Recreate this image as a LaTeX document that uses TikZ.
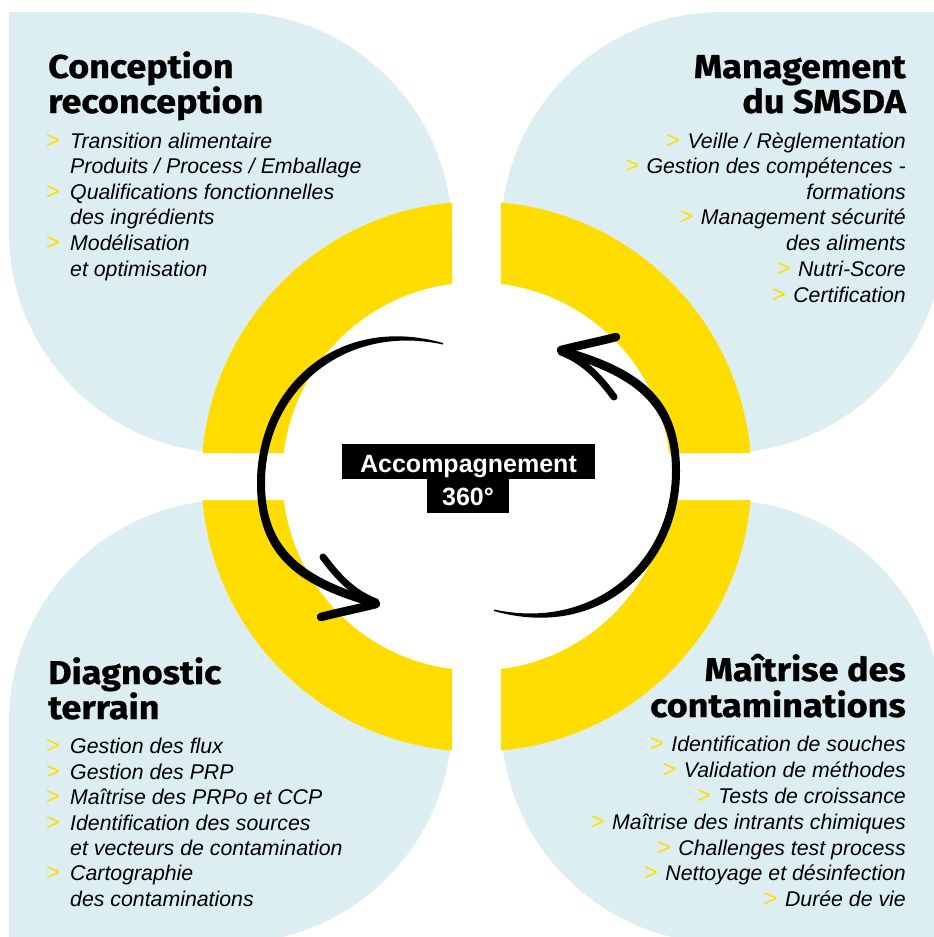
\documentclass[tikz,border=0pt]{standalone}
\usepackage{fontspec}
\setmainfont{Liberation Sans}
\newfontfamily\titlefont{Fira Sans}[FakeStretch=1.09, BoldFeatures={FakeBold=0.8}]
\definecolor{qblue}{HTML}{DDEEF3}
\definecolor{qyellow}{HTML}{FFDD00}
\begin{document}
\begin{tikzpicture}[x=1pt,y=-1pt,
  ttl/.style={inner sep=0pt, font=\titlefont\bfseries\fontsize{33}{35}\selectfont},
  itm/.style={inner sep=0pt, font=\itshape\fontsize{21.3}{25}\selectfont},
  bul/.style={inner sep=0pt, text=qyellow, font=\fontsize{24}{25}\selectfont},
  quad/.style={fill=qblue},
  arrowstroke/.style={line width=7pt, line cap=round, draw=black},
  centerbox/.style={fill=black, text=white, inner xsep=0pt, inner ysep=0pt,
    font=\bfseries\fontsize{25}{28}\selectfont}
  ]
\useasboundingbox (0,0) rectangle (934,937);
\clip (0,0) rectangle (934,937);
\fill[white] (0,0) rectangle (934,937);
\coordinate (C) at (476.5,476.5);
% blue quadrants
\fill[quad] (9,12) -- (231,12) .. controls (353,12) and (452,111) .. (452,233) -- (452,453) -- (230,453) .. controls (108,453) and (9,354) .. (9,232) -- cycle;
\fill[quad] (722,12) -- (944,12) -- (944,232) .. controls (944,354) and (845,453) .. (723,453) -- (501,453) -- (501,233) .. controls (501,111) and (600,12) .. (722,12) -- cycle;
\fill[quad] (9,943) -- (9,722) .. controls (9,600) and (108,500) .. (230,500) -- (452,500) -- (452,721) .. controls (452,843) and (353,943) .. (231,943) -- cycle;
\fill[quad] (501,500) -- (722,500) .. controls (844,500) and (944,600) .. (944,722) -- (944,943) -- (723,943) .. controls (601,943) and (501,843) .. (501,721) -- cycle;
% yellow ring
\begin{scope}
\clip (9,12) rectangle (452,453) (501,12) rectangle (944,453) (9,500) rectangle (452,943) (501,500) rectangle (944,943);
\fill[qyellow] (C) circle (275);
\end{scope}
\fill[white] (C) circle (194);
% arrows
\begin{scope}
\fill[black] (443,343) .. controls (337,313) and (257,388) .. (257,483) .. controls (257,558) and (300,586) .. (373,607) -- (375,599) .. controls (306,578) and (265,552) .. (265,483) .. controls (265,392) and (343,323) .. (443,344.5) -- cycle;
\draw[arrowstroke, line width=7pt] (323,557) .. controls (340,580) and (355,594) .. (376,602);
\draw[arrowstroke, line width=8.5pt] (376,604) .. controls (356,609) and (336,613) .. (321,617);
\end{scope}
\begin{scope}[rotate around={180:(468.5,477)}]
\fill[black] (443,343) .. controls (337,313) and (257,388) .. (257,483) .. controls (257,558) and (300,586) .. (373,607) -- (375,599) .. controls (306,578) and (265,552) .. (265,483) .. controls (265,392) and (343,323) .. (443,344.5) -- cycle;
\draw[arrowstroke, line width=7pt] (323,557) .. controls (340,580) and (355,594) .. (376,602);
\draw[arrowstroke, line width=8.5pt] (376,604) .. controls (356,609) and (336,613) .. (321,617);
\end{scope}
% center label
\node[centerbox, anchor=base, minimum width=253pt, text height=28pt, text depth=7pt] (acc) at (468.5,472) {Accompagnement};
\node[centerbox, anchor=base, minimum width=82pt, text height=26pt, text depth=8pt] (deg) at (468,505) {360°};
% top-left
\node[ttl, anchor=base west] (tla) at (48,78) {Conception};
\node[ttl, anchor=base west] (tlb) at (48,113) {reconception};
\node[itm, anchor=base west] (tl1) at (70,148) {Transition alimentaire};
\node[itm, anchor=base west] (tl2) at (70,173) {Produits / Process / Emballage};
\node[itm, anchor=base west] (tl3) at (70,199) {Qualifications fonctionnelles};
\node[itm, anchor=base west] (tl4) at (70,224) {des ingrédients};
\node[itm, anchor=base west] (tl5) at (70,250) {Modélisation};
\node[itm, anchor=base west] (tl6) at (70,276) {et optimisation};
\node[bul, anchor=base west] (tlb1) at (46,148) {\textgreater};
\node[bul, anchor=base west] (tlb2) at (46,199) {\textgreater};
\node[bul, anchor=base west] (tlb3) at (46,250) {\textgreater};
% top-right
\node[ttl, anchor=base east] (tra) at (906,78) {Management};
\node[ttl, anchor=base east] (trb) at (906,113) {du SMSDA};
\node[itm, anchor=base east] (tr1) at (906,148) {Veille / Règlementation};
\node[itm, anchor=base east] (tr2) at (906,173) {Gestion des compétences -};
\node[itm, anchor=base east] (tr3) at (906,199) {formations};
\node[itm, anchor=base east] (tr4) at (906,224) {Management sécurité};
\node[itm, anchor=base east] (tr5) at (906,250) {des aliments};
\node[itm, anchor=base east] (tr6) at (906,276) {Nutri-Score};
\node[itm, anchor=base east] (tr7) at (906,302) {Certification};
\node[bul, anchor=base east] (trb1) at ([xshift=-7pt]tr1.base west) {\textgreater};
\node[bul, anchor=base east] (trb2) at ([xshift=-7pt]tr2.base west) {\textgreater};
\node[bul, anchor=base east] (trb4) at ([xshift=-7pt]tr4.base west) {\textgreater};
\node[bul, anchor=base east] (trb6) at ([xshift=-7pt]tr6.base west) {\textgreater};
\node[bul, anchor=base east] (trb7) at ([xshift=-7pt]tr7.base west) {\textgreater};
% bottom-left
\node[ttl, anchor=base west] (bla) at (48,684) {Diagnostic};
\node[ttl, anchor=base west] (blb) at (48,719) {terrain};
\node[itm, anchor=base west] (bl1) at (70,753) {Gestion des flux};
\node[itm, anchor=base west] (bl2) at (70,779) {Gestion des PRP};
\node[itm, anchor=base west] (bl3) at (70,804) {Maîtrise des PRPo et CCP};
\node[itm, anchor=base west] (bl4) at (70,830) {Identification des sources};
\node[itm, anchor=base west] (bl5) at (70,855) {et vecteurs de contamination};
\node[itm, anchor=base west] (bl6) at (70,880) {Cartographie};
\node[itm, anchor=base west] (bl7) at (70,906) {des contaminations};
\node[bul, anchor=base west] (blb1) at (46,753) {\textgreater};
\node[bul, anchor=base west] (blb2) at (46,779) {\textgreater};
\node[bul, anchor=base west] (blb3) at (46,804) {\textgreater};
\node[bul, anchor=base west] (blb4) at (46,830) {\textgreater};
\node[bul, anchor=base west] (blb6) at (46,880) {\textgreater};
% bottom-right
\node[ttl, anchor=base east] (bra) at (906,681) {Maîtrise des};
\node[ttl, anchor=base east] (brb) at (906,717) {contaminations};
\node[itm, anchor=base east] (br1) at (906,751) {Identification de souches};
\node[itm, anchor=base east] (br2) at (906,777) {Validation de méthodes};
\node[itm, anchor=base east] (br3) at (906,803) {Tests de croissance};
\node[itm, anchor=base east] (br4) at (906,829) {Maîtrise des intrants chimiques};
\node[itm, anchor=base east] (br5) at (906,855) {Challenges test process};
\node[itm, anchor=base east] (br6) at (906,880) {Nettoyage et désinfection};
\node[itm, anchor=base east] (br7) at (906,906) {Durée de vie};
\node[bul, anchor=base east] (brb1) at ([xshift=-7pt]br1.base west) {\textgreater};
\node[bul, anchor=base east] (brb2) at ([xshift=-7pt]br2.base west) {\textgreater};
\node[bul, anchor=base east] (brb3) at ([xshift=-7pt]br3.base west) {\textgreater};
\node[bul, anchor=base east] (brb4) at ([xshift=-7pt]br4.base west) {\textgreater};
\node[bul, anchor=base east] (brb5) at ([xshift=-7pt]br5.base west) {\textgreater};
\node[bul, anchor=base east] (brb6) at ([xshift=-7pt]br6.base west) {\textgreater};
\node[bul, anchor=base east] (brb7) at ([xshift=-7pt]br7.base west) {\textgreater};
\end{tikzpicture}
\end{document}
